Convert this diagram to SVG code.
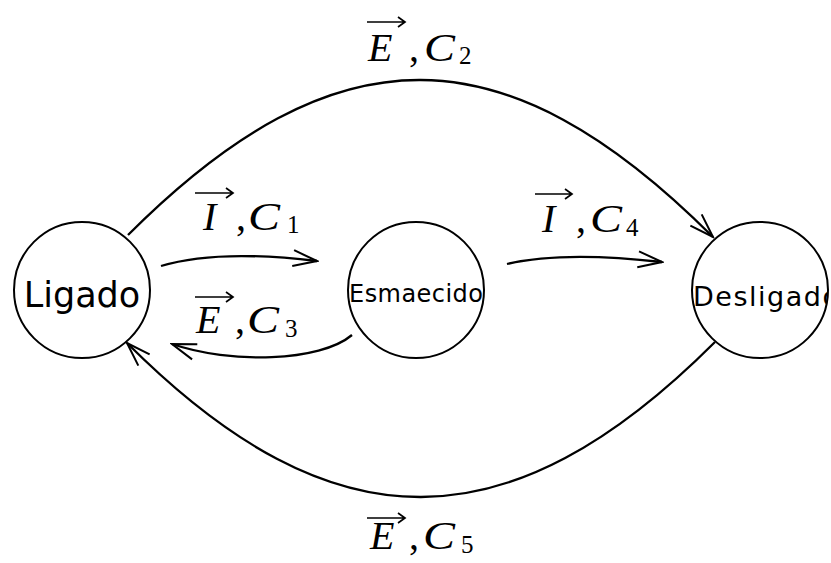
<svg xmlns="http://www.w3.org/2000/svg" width="831" height="563" viewBox="0 0 831 563">
<style>
.node{fill:#fff;stroke:#000;stroke-width:2}
.edge{fill:none;stroke:#000;stroke-width:2.3}
.vec{fill:none;stroke:#000;stroke-width:1.7}
.m{font-family:"Liberation Serif",serif;font-style:italic;font-size:40px;fill:#000}
.p{font-family:"Liberation Serif",serif;font-size:40px;fill:#000}
.s{font-family:"Liberation Serif",serif;font-size:25px;fill:#000}
.lbl{font-family:"DejaVu Sans","Liberation Sans",sans-serif;fill:#000}
</style>
<defs>
<marker id="ah" viewBox="-26 -10 28 20" refX="0" refY="0" markerWidth="28" markerHeight="20" orient="auto" markerUnits="userSpaceOnUse">
<path d="M-24,-8 L0,0 L-24,8" fill="none" stroke="#000" stroke-width="2"/>
</marker>
<clipPath id="cE"><circle cx="416" cy="290" r="68"/></clipPath>
<clipPath id="cD"><circle cx="760" cy="290" r="68"/></clipPath>
</defs>

<g id="connectors">
<path class="edge" d="M128,235 C336,27 505,29 713,237" marker-end="url(#ah)"/>
<path class="edge" d="M715,342 C509,548 333,549 127,343" marker-end="url(#ah)"/>
<path class="edge" d="M161,266 C200,254 250,253 317,261" marker-end="url(#ah)"/>
<path class="edge" d="M507,264 C545,255 600,255 662,262" marker-end="url(#ah)"/>
<path class="edge" d="M352,335 C320,362 230,364 172,344" marker-end="url(#ah)"/>
</g>

<g id="ligado">
<circle class="node" cx="82" cy="290" r="68"/>
<text class="lbl" x="82" y="307" font-size="35" text-anchor="middle">Ligado</text>
</g>

<g id="esmaecido">
<circle class="node" cx="416" cy="290" r="68"/>
<text class="lbl" x="349" y="302" font-size="24" textLength="134" lengthAdjust="spacing" fill="#222" clip-path="url(#cE)">Esmaecido</text>
</g>

<g id="desligado">
<circle class="node" cx="760" cy="290" r="68"/>
<text class="lbl" x="693" y="306" font-size="27" textLength="146" lengthAdjust="spacing" fill="#222" clip-path="url(#cD)">Desligado</text>
</g>

<g id="label-E-C2">
<path class="vec" d="M367,22 H405 M398,17 L405,22 L398,27"/>
<text class="m" x="368" y="61">E</text>
<text class="p" x="409" y="61">,</text>
<text class="m" x="424" y="61" textLength="31" lengthAdjust="spacingAndGlyphs">C</text>
<text class="s" x="459" y="64">2</text>
</g>

<g id="label-I-C1">
<path class="vec" d="M195,193 H233 M226,188 L233,193 L226,198"/>
<text class="m" x="203" y="230">I</text>
<text class="p" x="236" y="230">,</text>
<text class="m" x="248" y="230" textLength="32" lengthAdjust="spacingAndGlyphs">C</text>
<text class="s" x="287" y="233">1</text>
</g>

<g id="label-E-C3">
<path class="vec" d="M195,297 H233 M226,292 L233,297 L226,302"/>
<text class="m" x="196" y="333">E</text>
<text class="p" x="235" y="333">,</text>
<text class="m" x="247" y="333" textLength="32" lengthAdjust="spacingAndGlyphs">C</text>
<text class="s" x="285" y="337">3</text>
</g>

<g id="label-I-C4">
<path class="vec" d="M535,194 H572 M565,189 L572,194 L565,199"/>
<text class="m" x="542" y="232">I</text>
<text class="p" x="576" y="232">,</text>
<text class="m" x="590" y="232" textLength="32" lengthAdjust="spacingAndGlyphs">C</text>
<text class="s" x="626" y="236">4</text>
</g>

<g id="label-E-C5">
<path class="vec" d="M367,518 H405 M398,513 L405,518 L398,523"/>
<text class="m" x="370" y="549">E</text>
<text class="p" x="409" y="549">,</text>
<text class="m" x="423" y="549" textLength="32" lengthAdjust="spacingAndGlyphs">C</text>
<text class="s" x="461" y="553">5</text>
</g>
</svg>
